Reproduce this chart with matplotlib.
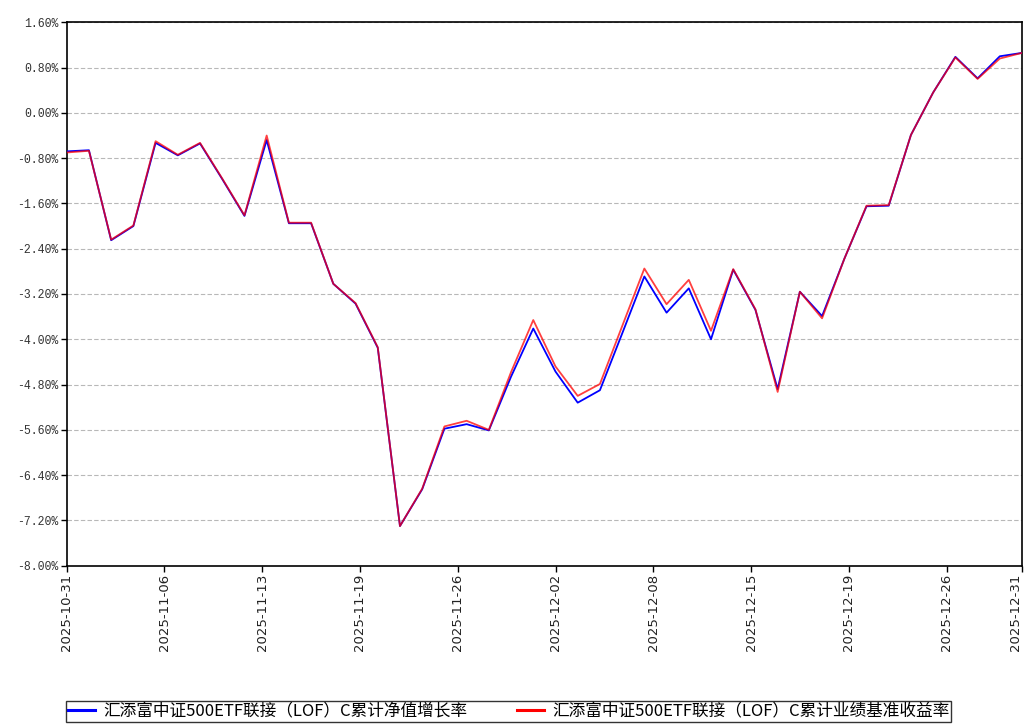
import matplotlib
matplotlib.use("Agg")
import matplotlib.pyplot as plt
import numpy as np

# trading days shown on the chart
dates = [
    "2025-10-31",
    "2025-11-03", "2025-11-04", "2025-11-05", "2025-11-06", "2025-11-07",
    "2025-11-10", "2025-11-11", "2025-11-12", "2025-11-13", "2025-11-14",
    "2025-11-17", "2025-11-18", "2025-11-19", "2025-11-20", "2025-11-21",
    "2025-11-24", "2025-11-25", "2025-11-26", "2025-11-27", "2025-11-28",
    "2025-12-01", "2025-12-02", "2025-12-03", "2025-12-04", "2025-12-05",
    "2025-12-08", "2025-12-09", "2025-12-10", "2025-12-11", "2025-12-12",
    "2025-12-15", "2025-12-16", "2025-12-17", "2025-12-18", "2025-12-19",
    "2025-12-22", "2025-12-23", "2025-12-24", "2025-12-25", "2025-12-26",
    "2025-12-29", "2025-12-30", "2025-12-31",
]

# cumulative NAV growth (%)
nav = [
    -0.68, -0.66, -2.25, -2.00, -0.53, -0.75, -0.54, -1.17, -1.82, -0.48,
    -1.95, -1.95, -3.02, -3.37, -4.15, -7.30, -6.65, -5.58, -5.50, -5.61,
    -4.66, -3.81, -4.57, -5.12, -4.90, -3.90, -2.89, -3.53, -3.10, -4.00,
    -2.77, -3.48, -4.88, -3.16, -3.59, -2.58, -1.65, -1.64, -0.39, 0.36,
    0.99, 0.61, 1.00, 1.06,
]

# cumulative benchmark return (%)
bench = [
    -0.70, -0.67, -2.24, -1.99, -0.50, -0.74, -0.53, -1.16, -1.81, -0.40,
    -1.94, -1.94, -3.02, -3.36, -4.14, -7.30, -6.64, -5.54, -5.44, -5.60,
    -4.58, -3.66, -4.48, -5.00, -4.79, -3.77, -2.75, -3.38, -2.95, -3.85,
    -2.76, -3.47, -4.93, -3.16, -3.63, -2.58, -1.64, -1.63, -0.39, 0.36,
    0.98, 0.60, 0.96, 1.06,
]

nav_label = "汇添富中证500ETF联接（LOF）C累计净值增长率"
bench_label = "汇添富中证500ETF联接（LOF）C累计业绩基准收益率"
y_ticks = [1.6, 0.8, 0.0, -0.8, -1.6, -2.4, -3.2, -4.0, -4.8, -5.6, -6.4, -7.2, -8.0]

plt.rcParams['font.family'] = ['Noto Sans CJK SC', 'DejaVu Sans']

fig = plt.figure(figsize=(10.25, 7.27), dpi=100)
ax = fig.add_axes([0.0651, 0.2219, 0.932, 0.7474])

x = np.arange(len(dates))
ax.plot(x, nav, color="#0000ff", lw=1.3, label=nav_label, zorder=3)
ax.plot(x, bench, color="#ff0000", lw=1.3, alpha=0.75, label=bench_label, zorder=4)

ax.set_xlim(0, len(dates) - 1)
ax.set_ylim(-8.0, 1.6)

ax.set_yticks(y_ticks)
ax.set_yticklabels([f"{v:.2f}%" for v in y_ticks], fontsize=8.3, color="#333333",
                   family=['Liberation Mono', 'DejaVu Sans Mono'])
ax.yaxis.grid(True, linestyle=(0, (4, 2)), color="#b8b8b8", lw=0.8)
ax.set_axisbelow(True)

# ten evenly spaced label slots, each labelled with the nearest trading day
n = len(dates) - 1
tick_pos = list(np.arange(0, n, n / 10 * 1.0233))
tick_pos = [p for p in tick_pos if p <= n - 2] + [n]
ax.set_xticks(tick_pos)
ax.set_xticklabels([dates[int(round(p))] for p in tick_pos], rotation=90,
                   fontsize=9.5, color="#222222",
                   family=['Liberation Sans Narrow', 'DejaVu Sans'])
ax.get_xticklabels()[-1].set_horizontalalignment('right')

ax.tick_params(axis='both', direction='out', length=4, width=1, color='black', pad=2)
for s in ax.spines.values():
    s.set_color("black")
    s.set_linewidth(1.2)

leg = fig.legend(loc='upper left', bbox_to_anchor=(66 / 1025, 1 - 701 / 727), ncol=2,
                 frameon=True, fancybox=False, edgecolor='black', fontsize=12,
                 handlelength=1.6, columnspacing=3.0, borderpad=0.12, borderaxespad=0,
                 handletextpad=0.5)
for line in leg.get_lines():
    line.set_linewidth(2.2)
    line.set_alpha(1)

fig.savefig("out.png", dpi=100)
